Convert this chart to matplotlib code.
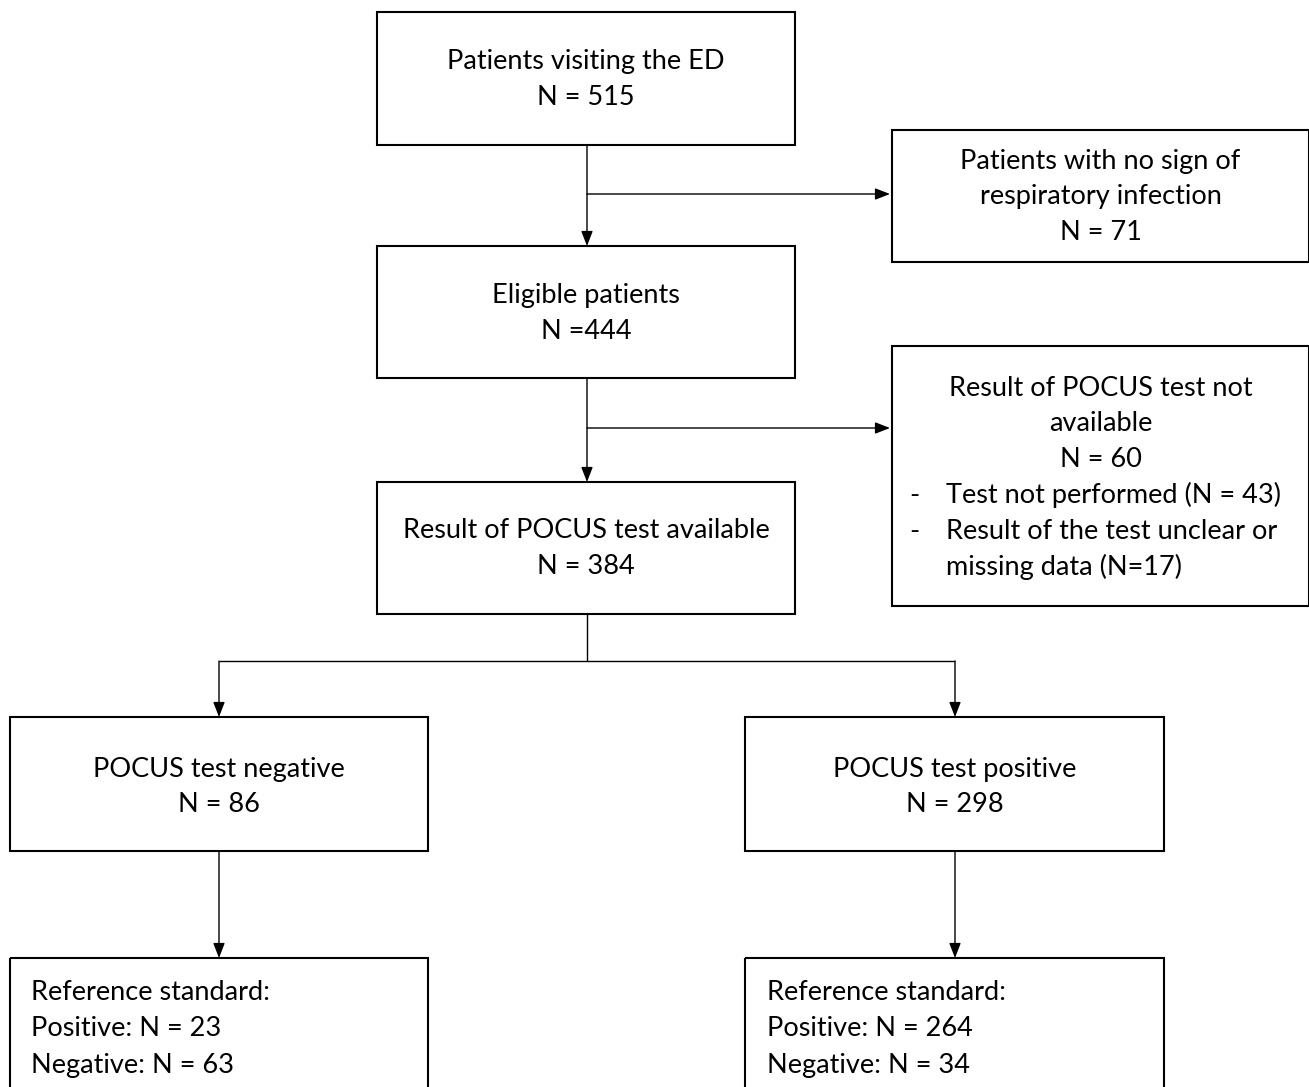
import matplotlib.pyplot as plt
from matplotlib.patches import Rectangle

plt.rcParams['font.family'] = ['Lato', 'DejaVu Sans']

# data: box texts
titles = ["Patients visiting the ED",
          "Patients with no sign of\nrespiratory infection",
          "Eligible patients",
          "Result of POCUS test not\navailable",
          "Result of POCUS test available",
          "POCUS test negative",
          "POCUS test positive"]
counts = ["N = 515", "N = 71", "N =444", "N = 60", "N = 384", "N = 86", "N = 298"]
not_available_reasons = ["Test not performed (N = 43)",
                         "Result of the test unclear or\nmissing data (N=17)"]
reference_neg = ["Reference standard:", "Positive: N = 23", "Negative: N = 63"]
reference_pos = ["Reference standard:", "Positive: N = 264", "Negative: N = 34"]

# layout in pixels: (left, top, right, bottom)
boxes = [(377, 12, 795, 145),
         (892, 130, 1309, 262),
         (377, 246, 795, 378),
         (892, 346, 1309, 606),
         (377, 482, 795, 614),
         (10, 717, 428, 851),
         (745, 717, 1164, 851),
         (10, 958, 428, 1100),
         (745, 958, 1164, 1100)]
first_line_y = [62, 161, 296, 388, 531, 769, 769]

W, H = 1309, 1087
fig = plt.figure(figsize=(W / 100, H / 100), dpi=100)
ax = fig.add_axes([0, 0, 1, 1])
ax.set_xlim(0, W)
ax.set_ylim(H, 0)
ax.axis('off')

for (l, t, r, b) in boxes:
    ax.add_patch(Rectangle((l, t), r - l, b - t, fill=False, ec='black', lw=1.5))

fs = 19.5
lh = 35.8
for i, (title, n) in enumerate(zip(titles, counts)):
    l, t, r, b = boxes[i]
    cx = (l + r) / 2
    lines = title.split("\n") + [n]
    for k, line in enumerate(lines):
        ax.text(cx, first_line_y[i] + k * lh, line, ha='center', va='center',
                fontsize=fs)

# bullets of the "not available" box
y = first_line_y[3] + 3 * lh
for reason in not_available_reasons:
    for k, line in enumerate(reason.split("\n")):
        if k == 0:
            ax.text(914, y, "-", ha='center', va='center', fontsize=fs)
        ax.text(946, y, line, ha='left', va='center', fontsize=fs)
        y += lh

for lines, x0 in [(reference_neg, 31), (reference_pos, 767)]:
    for k, line in enumerate(lines):
        ax.text(x0, 993 + k * 36, line, ha='left', va='center', fontsize=fs)


def arrow(x1, y1, x2, y2):
    ax.annotate("", xy=(x2, y2), xytext=(x1, y1),
                arrowprops=dict(arrowstyle='-|>,head_length=0.9,head_width=0.35',
                                color='black', lw=1.0, shrinkA=0, shrinkB=0))


def line(xs, ys):
    ax.plot(xs, ys, color='black', lw=1.0, solid_capstyle='butt')


# main spine
arrow(587, 145, 587, 246)
arrow(587, 194, 890, 194)
arrow(587, 378, 587, 482)
arrow(587, 428, 890, 428)
line([587, 587], [614, 661])
line([219, 955], [661, 661])
arrow(219, 661, 219, 717)
arrow(955, 661, 955, 717)
arrow(219, 851, 219, 958)
arrow(955, 851, 955, 958)

fig.savefig("out.png", dpi=100)
